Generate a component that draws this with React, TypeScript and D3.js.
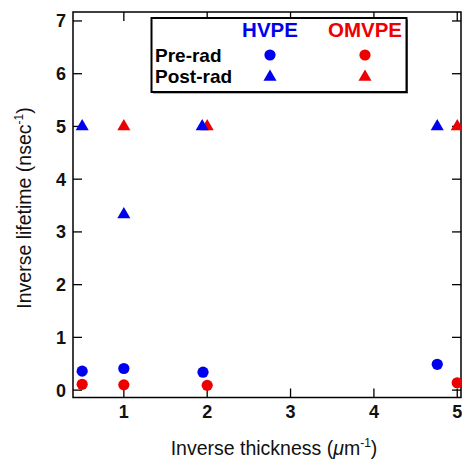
import React from "react";
import * as d3 from "d3";

const hvpePreX = [0.5, 1.0, 1.95, 4.76];
const hvpePreY = [0.36, 0.41, 0.34, 0.49];
const omvpePreX = [0.5, 1.0, 2.0, 5.0];
const omvpePreY = [0.11, 0.1, 0.09, 0.14];
const hvpePostX = [0.5, 1.0, 1.94, 4.76];
const hvpePostY = [5.0, 3.33, 5.0, 5.0];
const omvpePostX = [1.0, 2.0, 5.0];
const omvpePostY = [5.0, 5.0, 5.0];
const xTicks = [1, 2, 3, 4, 5];
const yTicks = [0, 1, 2, 3, 4, 5, 6, 7];

const W = 462;
const H = 461;
const L = 73, R = 461, T = 12, B = 397.5;
const BLUE = "#0000ee";
const RED = "#ee0000";
const FONT = "'Liberation Sans', Arial, Helvetica, sans-serif";

export default function App() {
  const x = d3.scaleLinear().domain([0.39, 5.045]).range([L, R]);
  const y = d3.scaleLinear().domain([-0.14, 7.17]).range([B, T]);
  const circle = d3.symbol().type(d3.symbolCircle).size(Math.PI * 5.6 * 5.6)() as string;
  const tri = d3.symbol().type(d3.symbolTriangle).size(74)() as string;
  const tk = 9;

  const pts = (xs: number[], ys: number[], path: string, color: string, key: string) =>
    xs.map((v, i) => (
      <path key={key + i} d={path} fill={color} transform={`translate(${x(v)},${y(ys[i])})`} />
    ));

  return (
    <svg width={W} height={H} style={{ position: "absolute", left: 0, top: 0, background: "#fff" }}>
      <rect x={0} y={0} width={W} height={H} fill="#fff" />
      {/* frame */}
      <rect x={L} y={T} width={R - L} height={B - T} fill="none" stroke="#000" strokeWidth={1.5} />
      {/* y ticks */}
      {yTicks.map((t) => (
        <g key={"yt" + t}>
          <line x1={L} x2={L + tk} y1={y(t)} y2={y(t)} stroke="#000" strokeWidth={1.3} />
          <line x1={R} x2={R - tk} y1={y(t)} y2={y(t)} stroke="#000" strokeWidth={1.3} />
          <text x={66} y={y(t)} dy="0.36em" textAnchor="end" fontFamily={FONT} fontWeight="bold" fontSize={18} fill="#111">
            {t}
          </text>
        </g>
      ))}
      {/* x ticks */}
      {xTicks.map((t) => (
        <g key={"xt" + t}>
          <line x1={x(t)} x2={x(t)} y1={B} y2={B - tk} stroke="#000" strokeWidth={1.3} />
          <line x1={x(t)} x2={x(t)} y1={T} y2={T + tk} stroke="#000" strokeWidth={1.3} />
          <text x={x(t)} y={418} textAnchor="middle" fontFamily={FONT} fontWeight="bold" fontSize={18} fill="#111">
            {t}
          </text>
        </g>
      ))}
      {/* axis labels */}
      <text x={274} y={455} textAnchor="middle" fontFamily={FONT} fontSize={19.5} fill="#111">
        Inverse thickness (
        <tspan fontStyle="italic">μ</tspan>m
        <tspan dy={-8} fontSize={12}>-1</tspan>
        <tspan dy={8}>)</tspan>
      </text>
      <text transform={`translate(31,${208}) rotate(-90)`} textAnchor="middle" fontFamily={FONT} fontSize={19.5} fill="#111">
        Inverse lifetime (nsec
        <tspan dy={-8} fontSize={12}>-1</tspan>
        <tspan dy={8}>)</tspan>
      </text>
      {/* data */}
      {pts(omvpePreX, omvpePreY, circle, RED, "orc")}
      {pts(hvpePreX, hvpePreY, circle, BLUE, "hc")}
      {pts(omvpePostX, omvpePostY, tri, RED, "ot")}
      {pts(hvpePostX, hvpePostY, tri, BLUE, "ht")}
      {/* legend */}
      <rect x={153} y={19.5} width={255} height={74} fill="#666" />
      <rect x={151.5} y={18} width={255} height={74} fill="#fff" stroke="#000" strokeWidth={2} />
      <text x={270} y={37} textAnchor="middle" fontFamily={FONT} fontWeight="bold" fontSize={20.5} fill={BLUE}>HVPE</text>
      <text x={365} y={37} textAnchor="middle" fontFamily={FONT} fontWeight="bold" fontSize={20.5} fill={RED}>OMVPE</text>
      <text x={155} y={62} fontFamily={FONT} fontWeight="bold" fontSize={19} fill="#000">Pre-rad</text>
      <text x={155} y={83} fontFamily={FONT} fontWeight="bold" fontSize={19} fill="#000">Post-rad</text>
      <path d={circle} fill={BLUE} transform="translate(270,55)" />
      <path d={circle} fill={RED} transform="translate(365,55)" />
      <path d={tri} fill={BLUE} transform="translate(270,77)" />
      <path d={tri} fill={RED} transform="translate(365,77)" />
    </svg>
  );
}
